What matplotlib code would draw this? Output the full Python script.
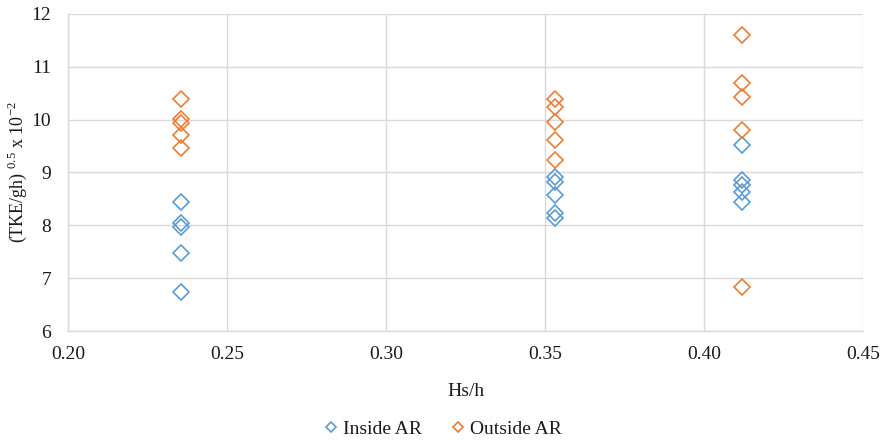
import matplotlib
matplotlib.use("Agg")
import matplotlib.pyplot as plt

plt.rcParams['font.family'] = ['Liberation Serif', 'DejaVu Serif']
plt.rcParams['mathtext.fontset'] = 'custom'
plt.rcParams['mathtext.rm'] = 'Liberation Serif'

# data
x_left, x_mid, x_right = 0.2355, 0.3531, 0.4120
inside_x = [x_left] * 5 + [x_mid] * 5 + [x_right] * 5
inside_y = [8.45, 8.04, 7.97, 7.47, 6.74,
            8.92, 8.82, 8.57, 8.23, 8.13,
            9.52, 8.86, 8.76, 8.63, 8.45]
outside_x = [x_left] * 5 + [x_mid] * 5 + [x_right] * 5
outside_y = [10.39, 10.02, 9.93, 9.71, 9.46,
             10.40, 10.24, 9.96, 9.61, 9.23,
             11.60, 10.70, 10.43, 9.81, 6.84]

blue = '#5B9BD5'
orange = '#ED7D31'
grid_col = '#D9D9D9'
text_col = '#1a1a1a'
fs = 14

fig = plt.figure(figsize=(8.85, 4.44), dpi=100)
ax = fig.add_axes([68 / 885, 1 - 331 / 444, 795 / 885, 317 / 444])

ax.plot(inside_x, inside_y, linestyle='none', marker='D', markersize=8.5,
        markerfacecolor='none', markeredgecolor=blue, markeredgewidth=1.2,
        label='Inside AR')
ax.plot(outside_x, outside_y, linestyle='none', marker='D', markersize=8.5,
        markerfacecolor='none', markeredgecolor=orange, markeredgewidth=1.2,
        label='Outside AR')

ax.set_xlim(0.20, 0.45)
ax.set_ylim(6, 12)
ax.set_xticks([0.20, 0.25, 0.30, 0.35, 0.40, 0.45])
ax.set_xticklabels(['0.20', '0.25', '0.30', '0.35', '0.40', '0.45'])
ax.set_yticks(range(6, 13))
ax.grid(True, color=grid_col, linewidth=1)
ax.set_axisbelow(True)
for s in ['top', 'right']:
    ax.spines[s].set_visible(False)
for s in ['left', 'bottom']:
    ax.spines[s].set_color(grid_col)
    ax.spines[s].set_linewidth(1)
ax.tick_params(axis='x', length=0, labelsize=fs, colors=text_col, pad=11)
ax.tick_params(axis='y', length=0, labelsize=fs, colors=text_col, pad=12)

ax.set_xlabel('Hs/h', fontsize=fs, color=text_col, labelpad=14)
fig.text(17 / 885, 1 - 172 / 444, r'(TKE/gh) $^{0.5}$ x 10$^{-2}$',
         fontsize=13, color=text_col, rotation=90, ha='center', va='center')

leg = fig.legend(loc='lower center', bbox_to_anchor=(0.5, -0.025), ncol=2,
                 frameon=False, fontsize=fs, markerscale=0.6,
                 handlelength=0.8, handletextpad=0.2, columnspacing=1.5)
for t in leg.get_texts():
    t.set_color(text_col)

fig.savefig('out.png', dpi=100)
